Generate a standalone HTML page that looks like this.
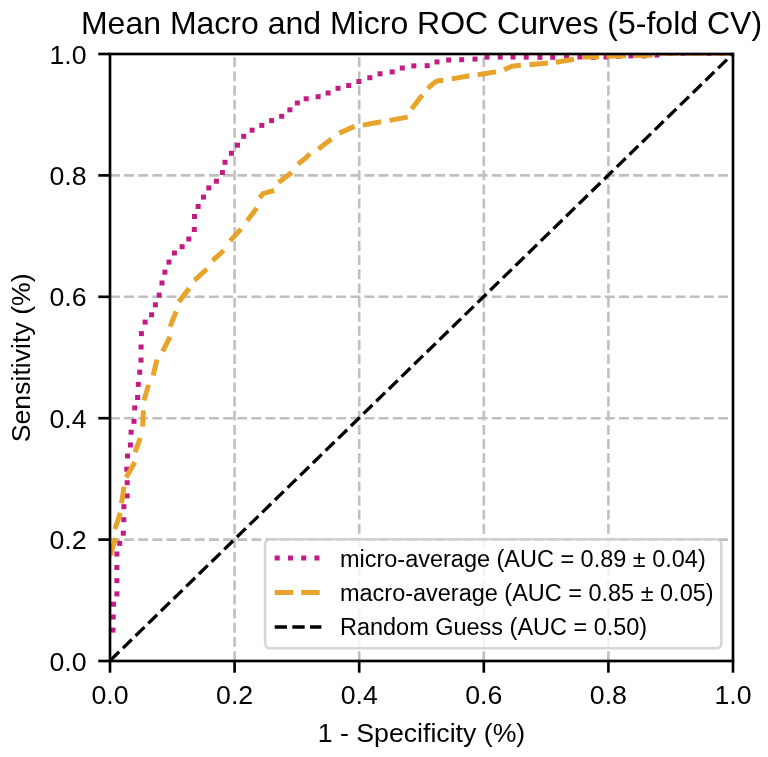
<!DOCTYPE html>
<html><head><meta charset="utf-8">
<style>
html,body{margin:0;padding:0;background:#fff;width:768px;height:757px;overflow:hidden}
svg{display:block;filter:blur(0.7px)}
text{font-family:"Liberation Sans",sans-serif;fill:#000}
</style></head>
<body>
<svg width="768" height="757" viewBox="0 0 768 757">
<rect x="0" y="0" width="768" height="757" fill="#fff"/>
<!-- grid -->
<g stroke="#c0c0c0" stroke-width="2.6" stroke-dasharray="9.87 4.27" fill="none">
<line x1="234.6" y1="661" x2="234.6" y2="54"/>
<line x1="359.2" y1="661" x2="359.2" y2="54"/>
<line x1="483.8" y1="661" x2="483.8" y2="54"/>
<line x1="608.4" y1="661" x2="608.4" y2="54"/>
<line x1="110" y1="539.6" x2="733" y2="539.6"/>
<line x1="110" y1="418.2" x2="733" y2="418.2"/>
<line x1="110" y1="296.8" x2="733" y2="296.8"/>
<line x1="110" y1="175.4" x2="733" y2="175.4"/>
</g>
<!-- CURVES -->
<defs><clipPath id="ax"><rect x="110" y="54" width="623" height="607"/></clipPath></defs>
<g clip-path="url(#ax)">
<g fill="#c41a84">
<rect x="110.5" y="627.6" width="5.0" height="5.0"/>
<rect x="110.7" y="614.5" width="5.0" height="5.0"/>
<rect x="111.0" y="601.7" width="5.0" height="5.0"/>
<rect x="114.4" y="591.4" width="5.0" height="5.0"/>
<rect x="114.4" y="578.2" width="5.0" height="5.0"/>
<rect x="114.4" y="565.0" width="5.0" height="5.0"/>
<rect x="114.4" y="551.5" width="5.0" height="5.0"/>
<rect x="117.2" y="540.9" width="5.0" height="5.0"/>
<rect x="120.8" y="530.7" width="5.0" height="5.0"/>
<rect x="121.3" y="517.2" width="5.0" height="5.0"/>
<rect x="121.4" y="504.2" width="5.0" height="5.0"/>
<rect x="124.7" y="493.4" width="5.0" height="5.0"/>
<rect x="124.7" y="480.2" width="5.0" height="5.0"/>
<rect x="124.3" y="466.7" width="5.0" height="5.0"/>
<rect x="125.0" y="453.5" width="5.0" height="5.0"/>
<rect x="127.9" y="442.5" width="5.0" height="5.0"/>
<rect x="128.6" y="429.7" width="5.0" height="5.0"/>
<rect x="131.5" y="418.8" width="5.0" height="5.0"/>
<rect x="132.2" y="405.4" width="5.0" height="5.0"/>
<rect x="135.1" y="395.0" width="5.0" height="5.0"/>
<rect x="135.8" y="381.9" width="5.0" height="5.0"/>
<rect x="137.2" y="369.7" width="5.0" height="5.0"/>
<rect x="138.5" y="357.6" width="5.0" height="5.0"/>
<rect x="138.6" y="344.5" width="5.0" height="5.0"/>
<rect x="138.9" y="331.1" width="5.0" height="5.0"/>
<rect x="142.6" y="319.6" width="5.0" height="5.0"/>
<rect x="149.1" y="312.3" width="5.0" height="5.0"/>
<rect x="152.9" y="302.3" width="5.0" height="5.0"/>
<rect x="156.7" y="292.6" width="5.0" height="5.0"/>
<rect x="159.5" y="280.5" width="5.0" height="5.0"/>
<rect x="162.4" y="269.7" width="5.0" height="5.0"/>
<rect x="166.5" y="259.6" width="5.0" height="5.0"/>
<rect x="171.9" y="250.5" width="5.0" height="5.0"/>
<rect x="179.6" y="244.2" width="5.0" height="5.0"/>
<rect x="186.3" y="236.5" width="5.0" height="5.0"/>
<rect x="191.8" y="227.0" width="5.0" height="5.0"/>
<rect x="192.0" y="214.0" width="5.0" height="5.0"/>
<rect x="195.6" y="204.0" width="5.0" height="5.0"/>
<rect x="201.0" y="194.6" width="5.0" height="5.0"/>
<rect x="206.3" y="185.4" width="5.0" height="5.0"/>
<rect x="213.9" y="178.7" width="5.0" height="5.0"/>
<rect x="219.9" y="170.0" width="5.0" height="5.0"/>
<rect x="222.5" y="159.8" width="5.0" height="5.0"/>
<rect x="228.9" y="150.8" width="5.0" height="5.0"/>
<rect x="235.0" y="142.7" width="5.0" height="5.0"/>
<rect x="241.2" y="133.8" width="5.0" height="5.0"/>
<rect x="249.6" y="127.7" width="5.0" height="5.0"/>
<rect x="259.3" y="122.9" width="5.0" height="5.0"/>
<rect x="269.1" y="118.1" width="5.0" height="5.0"/>
<rect x="279.2" y="113.8" width="5.0" height="5.0"/>
<rect x="287.4" y="107.3" width="5.0" height="5.0"/>
<rect x="294.8" y="100.5" width="5.0" height="5.0"/>
<rect x="303.7" y="96.3" width="5.0" height="5.0"/>
<rect x="315.6" y="94.2" width="5.0" height="5.0"/>
<rect x="325.6" y="90.5" width="5.0" height="5.0"/>
<rect x="335.5" y="85.8" width="5.0" height="5.0"/>
<rect x="346.2" y="83.0" width="5.0" height="5.0"/>
<rect x="356.4" y="79.0" width="5.0" height="5.0"/>
<rect x="367.3" y="75.2" width="5.0" height="5.0"/>
<rect x="377.5" y="71.3" width="5.0" height="5.0"/>
<rect x="389.7" y="69.4" width="5.0" height="5.0"/>
<rect x="399.8" y="65.5" width="5.0" height="5.0"/>
<rect x="411.3" y="63.4" width="5.0" height="5.0"/>
<rect x="424.7" y="63.2" width="5.0" height="5.0"/>
<rect x="434.5" y="59.4" width="5.0" height="5.0"/>
<rect x="446.2" y="57.5" width="5.0" height="5.0"/>
<rect x="459.2" y="57.2" width="5.0" height="5.0"/>
<rect x="472.5" y="56.6" width="5.0" height="5.0"/>
<rect x="484.5" y="54.6" width="5.0" height="5.0"/>
<rect x="497.7" y="54.6" width="5.0" height="5.0"/>
<rect x="510.5" y="54.6" width="5.0" height="5.0"/>
<rect x="523.7" y="54.7" width="5.0" height="5.0"/>
<rect x="537.4" y="54.8" width="5.0" height="5.0"/>
<rect x="550.2" y="54.8" width="5.0" height="5.0"/>
<rect x="564.1" y="54.1" width="5.0" height="5.0"/>
<rect x="577.4" y="54.5" width="5.0" height="5.0"/>
<rect x="590.9" y="54.8" width="5.0" height="5.0"/>
<rect x="603.5" y="54.5" width="5.0" height="5.0"/>
<rect x="616.0" y="53.7" width="5.0" height="5.0"/>
<rect x="628.5" y="53.4" width="5.0" height="5.0"/>
<rect x="641.7" y="53.4" width="5.0" height="5.0"/>
<rect x="654.5" y="52.5" width="5.0" height="5.0"/>
<rect x="667.5" y="50.8" width="5.0" height="5.0"/>
<rect x="680.5" y="50.8" width="5.0" height="5.0"/>
<rect x="693.5" y="50.8" width="5.0" height="5.0"/>
<rect x="706.5" y="50.8" width="5.0" height="5.0"/>
<rect x="719.5" y="50.8" width="5.0" height="5.0"/>
</g>
<g fill="none" stroke="#e8a42a" stroke-width="5" stroke-linecap="butt" stroke-linejoin="round">
<polyline points="110.2,555.3 115.7,538.0"/>
<polyline points="114.9,529.1 120.4,512.9"/>
<polyline points="121.5,503.3 124.0,486.6"/>
<polyline points="126.1,477.4 134.8,462.2"/>
<polyline points="135.0,452.3 140.3,438.0"/>
<polyline points="142.7,426.5 143.4,410.3"/>
<polyline points="144.0,400.4 148.6,384.9"/>
<polyline points="153.2,375.5 156.9,359.6"/>
<polyline points="162.6,351.4 170.1,336.9"/>
<polyline points="170.1,326.7 176.1,311.5"/>
<polyline points="178.8,301.9 189.2,288.4"/>
<polyline points="194.4,280.3 206.9,269.0"/>
<polyline points="212.6,260.6 223.7,250.5"/>
<polyline points="230.1,240.9 241.0,229.0"/>
<polyline points="247.2,220.7 256.8,208.1"/>
<polyline points="259.6,197.8 263.1,193.7 274.2,190.4"/>
<polyline points="278.6,182.6 291.7,172.5"/>
<polyline points="298.0,163.9 305.8,157.9 309.8,153.6"/>
<polyline points="318.4,148.9 331.4,138.9"/>
<polyline points="339.3,133.1 354.5,126.4"/>
<polyline points="362.9,125.1 381.1,121.8"/>
<polyline points="389.5,120.4 407.7,117.1"/>
<polyline points="411.6,109.0 422.3,94.9"/>
<polyline points="427.7,88.5 431.8,84.8 435.5,81.9 439.2,80.5 443.4,80.6"/>
<polyline points="451.8,78.9 469.4,75.8"/>
<polyline points="477.7,74.8 496.0,71.9"/>
<polyline points="504.1,69.6 512.0,66.2 520.8,65.2"/>
<polyline points="529.5,64.8 547.8,63.1"/>
<polyline points="555.8,62.3 574.0,59.3"/>
<polyline points="582.5,56.9 599.0,56.7"/>
<polyline points="606.5,56.2 626.0,55.8"/>
<polyline points="633.0,55.6 652.5,55.2"/>
<polyline points="659.5,53.3 679.0,53.3"/>
<polyline points="686.0,53.3 705.5,53.3"/>
<polyline points="712.5,53.3 732.0,53.3"/>
</g>
</g>
<!-- /CURVES -->
<!-- diagonal -->
<line x1="110.3" y1="660.4" x2="733.3" y2="53.4" stroke="#000" stroke-width="3.3" stroke-dasharray="12.34 5.34"/>
<!-- legend -->
<rect x="265.1" y="539.4" width="456.3" height="108.9" rx="5" ry="5" fill="#fff" fill-opacity="0.8" stroke="#cccccc" stroke-opacity="0.8" stroke-width="2.6"/>
<line x1="274.7" y1="558" x2="321.4" y2="558" stroke="#c41a84" stroke-width="5" stroke-dasharray="5 8.25"/>
<line x1="274.7" y1="592.6" x2="321.4" y2="592.6" stroke="#e8a42a" stroke-width="5" stroke-dasharray="18.5 8"/>
<line x1="274.7" y1="627" x2="321.4" y2="627" stroke="#000" stroke-width="3.3" stroke-dasharray="12.3 5.35"/>
<g font-size="23.47">
<text x="340" y="567.4">micro-average (AUC = 0.89 ± 0.04)</text>
<text x="340" y="601.3">macro-average (AUC = 0.85 ± 0.05)</text>
<text x="340" y="635.3">Random Guess (AUC = 0.50)</text>
</g>
<!-- spines -->
<rect x="110" y="54" width="623" height="607" fill="none" stroke="#000" stroke-width="2.67"/>
<!-- ticks -->
<g stroke="#000" stroke-width="2.67">
<line x1="110" y1="661" x2="110" y2="672.7"/>
<line x1="234.6" y1="661" x2="234.6" y2="672.7"/>
<line x1="359.2" y1="661" x2="359.2" y2="672.7"/>
<line x1="483.8" y1="661" x2="483.8" y2="672.7"/>
<line x1="608.4" y1="661" x2="608.4" y2="672.7"/>
<line x1="733" y1="661" x2="733" y2="672.7"/>
<line x1="98.3" y1="661" x2="110" y2="661"/>
<line x1="98.3" y1="539.6" x2="110" y2="539.6"/>
<line x1="98.3" y1="418.2" x2="110" y2="418.2"/>
<line x1="98.3" y1="296.8" x2="110" y2="296.8"/>
<line x1="98.3" y1="175.4" x2="110" y2="175.4"/>
<line x1="98.3" y1="54" x2="110" y2="54"/>
</g>
<g font-size="26.68" text-anchor="middle">
<text x="110" y="704">0.0</text>
<text x="234.6" y="704">0.2</text>
<text x="359.2" y="704">0.4</text>
<text x="483.8" y="704">0.6</text>
<text x="608.4" y="704">0.8</text>
<text x="733" y="704">1.0</text>
</g>
<g font-size="26.68" text-anchor="end">
<text x="86.6" y="670.6">0.0</text>
<text x="86.6" y="549.2">0.2</text>
<text x="86.6" y="427.8">0.4</text>
<text x="86.6" y="306.4">0.6</text>
<text x="86.6" y="185">0.8</text>
<text x="86.6" y="63.6">1.0</text>
</g>
<text x="421.5" y="742.3" font-size="26.68" text-anchor="middle">1 - Specificity (%)</text>
<text transform="translate(29.6 357.8) rotate(-90)" font-size="26.68" text-anchor="middle">Sensitivity (%)</text>
<text x="421.5" y="34" font-size="32" text-anchor="middle">Mean Macro and Micro ROC Curves (5-fold CV)</text>
</svg>
</body></html>
